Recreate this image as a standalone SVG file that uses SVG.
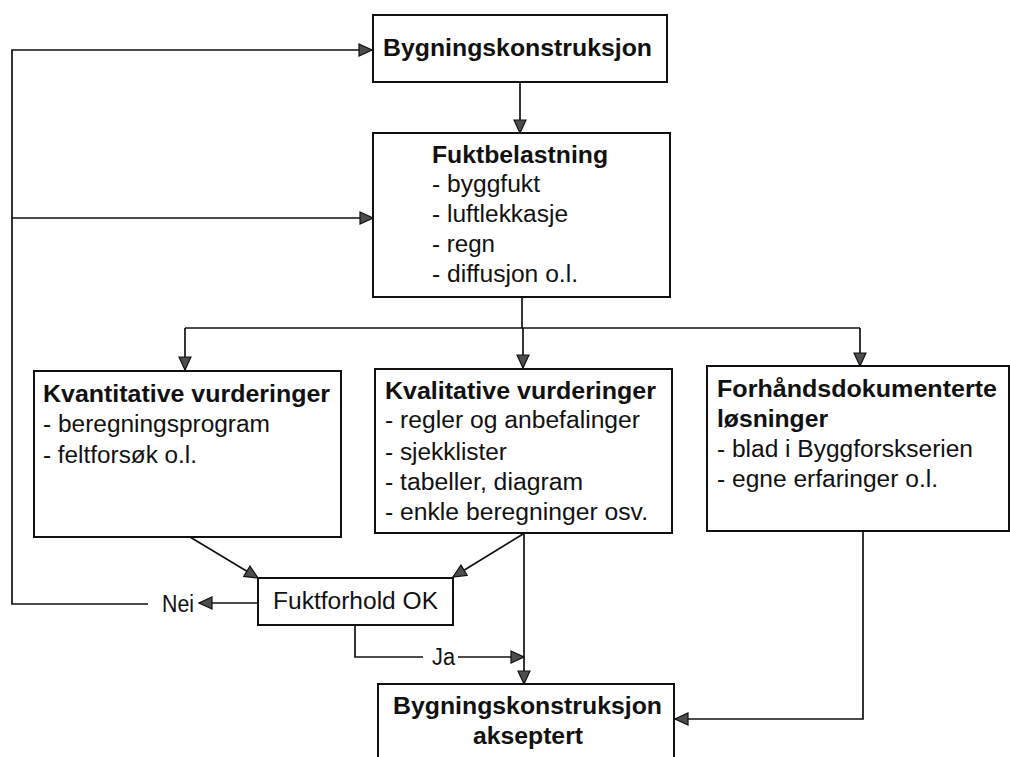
<svg xmlns="http://www.w3.org/2000/svg" width="1010" height="757" viewBox="0 0 1010 757">
<defs>
<style>
.box{fill:#fff;stroke:#111;stroke-width:2}
.ln{fill:none;stroke:#111;stroke-width:1.7}
.arr{marker-end:url(#ah)}
text{font-family:"Liberation Sans",Arial,sans-serif;font-size:23px;fill:#111}
.b{font-weight:bold}
</style>
<marker id="ah" viewBox="0 0 15 15" refX="14" refY="7.5" markerWidth="15" markerHeight="15" markerUnits="userSpaceOnUse" orient="auto">
<path d="M1,1.5 L14,7.5 L1,13.5 Z" fill="#4d4d4d" stroke="#111" stroke-width="1.2"/>
</marker>
</defs>
<rect width="1010" height="757" fill="#fff"/>
<g id="connectors">
<path class="ln arr" d="M520,82 V133"/>
<path class="ln arr" d="M148,604 H12 V50 H372"/>
<path class="ln arr" d="M12,218 H373"/>
<path class="ln arr" d="M258,603 H199"/>
<path class="ln" d="M522,297 V328"/>
<path class="ln" d="M185,328 H860"/>
<path class="ln arr" d="M185,328 V370"/>
<path class="ln arr" d="M523,328 V368"/>
<path class="ln arr" d="M860,328 V366"/>
<path class="ln arr" d="M190,537 L258,578"/>
<path class="ln arr" d="M523,534 L453,577"/>
<path class="ln arr" d="M524,533 V684"/>
<path class="ln" d="M355,625 V657 H423"/>
<path class="ln arr" d="M458,657 H524"/>
<path class="ln arr" d="M863,531 V719 H675"/>
</g>
<g id="n-bygg">
<rect class="box" x="373" y="15" width="294" height="67"/>
<text class="b" x="383" y="56" textLength="269" lengthAdjust="spacingAndGlyphs">Bygningskonstruksjon</text>
</g>
<g id="n-fukt">
<rect class="box" x="373" y="133" width="297" height="164"/>
<text class="b" x="432" y="163" textLength="176" lengthAdjust="spacingAndGlyphs">Fuktbelastning</text>
<text x="432" y="192" textLength="108" lengthAdjust="spacingAndGlyphs">- byggfukt</text>
<text x="432" y="222" textLength="136" lengthAdjust="spacingAndGlyphs">- luftlekkasje</text>
<text x="432" y="252" textLength="63" lengthAdjust="spacingAndGlyphs">- regn</text>
<text x="432" y="282" textLength="146" lengthAdjust="spacingAndGlyphs">- diffusjon o.l.</text>
</g>
<g id="n-kvant">
<rect class="box" x="34" y="371" width="307" height="166"/>
<text class="b" x="43" y="402" textLength="287" lengthAdjust="spacingAndGlyphs">Kvantitative vurderinger</text>
<text x="43" y="432" textLength="227" lengthAdjust="spacingAndGlyphs">- beregningsprogram</text>
<text x="43" y="463" textLength="154" lengthAdjust="spacingAndGlyphs">- feltforsøk o.l.</text>
</g>
<g id="n-kval">
<rect class="box" x="375" y="369" width="297" height="164"/>
<text class="b" x="385" y="399" textLength="271" lengthAdjust="spacingAndGlyphs">Kvalitative vurderinger</text>
<text x="385" y="428" textLength="255" lengthAdjust="spacingAndGlyphs">- regler og anbefalinger</text>
<text x="385" y="460" textLength="122" lengthAdjust="spacingAndGlyphs">- sjekklister</text>
<text x="385" y="490" textLength="198" lengthAdjust="spacingAndGlyphs">- tabeller, diagram</text>
<text x="385" y="520" textLength="263" lengthAdjust="spacingAndGlyphs">- enkle beregninger osv.</text>
</g>
<g id="n-forh">
<rect class="box" x="707" y="366" width="302" height="165"/>
<text class="b" x="717" y="397" textLength="280" lengthAdjust="spacingAndGlyphs">Forhåndsdokumenterte</text>
<text class="b" x="717" y="427" textLength="111" lengthAdjust="spacingAndGlyphs">løsninger</text>
<text x="717" y="457" textLength="256" lengthAdjust="spacingAndGlyphs">- blad i Byggforskserien</text>
<text x="717" y="487" textLength="221" lengthAdjust="spacingAndGlyphs">- egne erfaringer o.l.</text>
</g>
<g id="n-ok">
<rect class="box" x="258" y="578" width="195" height="47"/>
<text x="273" y="609" textLength="165" lengthAdjust="spacingAndGlyphs">Fuktforhold OK</text>
</g>
<g id="labels">
<text x="162" y="612" textLength="32" lengthAdjust="spacingAndGlyphs">Nei</text>
<text x="432" y="665" textLength="23" lengthAdjust="spacingAndGlyphs">Ja</text>
</g>
<g id="n-aksept">
<rect class="box" x="378" y="684" width="296" height="90"/>
<text class="b" x="393" y="714" textLength="269" lengthAdjust="spacingAndGlyphs">Bygningskonstruksjon</text>
<text class="b" x="473" y="744" textLength="110" lengthAdjust="spacingAndGlyphs">akseptert</text>
</g>
</svg>
